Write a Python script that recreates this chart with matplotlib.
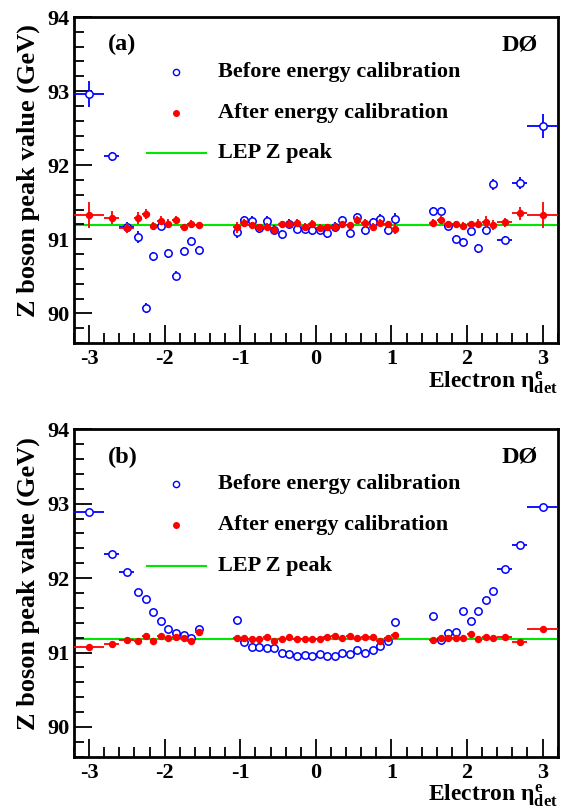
import numpy as np
import matplotlib
matplotlib.use('Agg')
import matplotlib.pyplot as plt

plt.rcParams['font.family'] = ['Liberation Serif', 'DejaVu Serif']
plt.rcParams['font.weight'] = 'bold'
plt.rcParams['mathtext.fontset'] = 'custom'
plt.rcParams['mathtext.rm'] = 'Liberation Serif:bold'
plt.rcParams['mathtext.it'] = 'Liberation Serif:bold'
plt.rcParams['mathtext.bf'] = 'Liberation Serif:bold'

# eta bins
eta = np.array([-3.0, -2.7, -2.5, -2.35, -2.25, -2.15, -2.05, -1.95, -1.85, -1.75, -1.65, -1.55,
                -1.05, -0.95, -0.85, -0.75, -0.65, -0.55, -0.45, -0.35, -0.25, -0.15, -0.05,
                0.05, 0.15, 0.25, 0.35, 0.45, 0.55, 0.65, 0.75, 0.85, 0.95, 1.05,
                1.55, 1.65, 1.75, 1.85, 1.95, 2.05, 2.15, 2.25, 2.35, 2.5, 2.7, 3.0])
eta_err = np.array([0.2, 0.1, 0.1] + [0.05] * 40 + [0.1, 0.1, 0.2])

lep_z = 91.1876

# panel (a)
before_a = np.array([92.96, 92.12, 91.17, 91.03, 90.07, 90.77, 91.18, 90.81, 90.51, 90.84, 90.98, 90.86,
                     91.10, 91.26, 91.25, 91.15, 91.25, 91.13, 91.07, 91.21, 91.14, 91.14, 91.12,
                     91.13, 91.08, 91.17, 91.26, 91.09, 91.30, 91.12, 91.23, 91.28, 91.12, 91.28,
                     91.38, 91.38, 91.18, 91.01, 90.97, 91.11, 90.88, 91.13, 91.74, 90.99, 91.76, 92.53])
before_a_err = np.array([0.17, 0.06, 0.06, 0.08, 0.07, 0.06, 0.06, 0.06, 0.06, 0.05, 0.05, 0.05,
                         0.08, 0.06, 0.06, 0.06, 0.06, 0.06, 0.06, 0.06, 0.06, 0.06, 0.06,
                         0.06, 0.06, 0.06, 0.06, 0.06, 0.06, 0.06, 0.06, 0.06, 0.06, 0.08,
                         0.05, 0.05, 0.05, 0.05, 0.05, 0.06, 0.06, 0.06, 0.08, 0.06, 0.08, 0.16])
after_a = np.array([91.33, 91.29, 91.15, 91.29, 91.34, 91.18, 91.25, 91.21, 91.26, 91.16, 91.21, 91.19,
                    91.16, 91.22, 91.19, 91.16, 91.17, 91.13, 91.20, 91.21, 91.22, 91.17, 91.21,
                    91.15, 91.16, 91.17, 91.20, 91.19, 91.26, 91.22, 91.17, 91.22, 91.20, 91.14,
                    91.22, 91.26, 91.20, 91.20, 91.18, 91.20, 91.21, 91.24, 91.19, 91.23, 91.35, 91.33])
after_a_err = np.array([0.18, 0.09, 0.07, 0.08, 0.07, 0.06, 0.06, 0.06, 0.05, 0.05, 0.05, 0.05,
                        0.07, 0.06, 0.05, 0.05, 0.05, 0.05, 0.05, 0.05, 0.05, 0.05, 0.05,
                        0.05, 0.05, 0.05, 0.05, 0.05, 0.05, 0.05, 0.05, 0.05, 0.05, 0.07,
                        0.05, 0.05, 0.05, 0.05, 0.05, 0.05, 0.06, 0.07, 0.07, 0.06, 0.09, 0.18])

# panel (b)
before_b = np.array([92.89, 92.33, 92.08, 91.81, 91.72, 91.55, 91.43, 91.32, 91.26, 91.23, 91.20, 91.31,
                     91.44, 91.14, 91.07, 91.07, 91.06, 91.06, 91.00, 90.98, 90.96, 90.97, 90.95,
                     90.98, 90.95, 90.96, 90.99, 90.98, 91.03, 91.00, 91.04, 91.09, 91.16, 91.41,
                     91.49, 91.17, 91.26, 91.28, 91.56, 91.43, 91.56, 91.70, 91.83, 92.12, 92.44, 92.95])
after_b = np.array([91.07, 91.11, 91.17, 91.16, 91.22, 91.15, 91.22, 91.20, 91.21, 91.20, 91.16, 91.27,
                    91.20, 91.20, 91.18, 91.18, 91.21, 91.16, 91.18, 91.21, 91.18, 91.18, 91.18,
                    91.18, 91.21, 91.22, 91.20, 91.22, 91.20, 91.21, 91.21, 91.15, 91.20, 91.24,
                    91.17, 91.19, 91.19, 91.19, 91.19, 91.25, 91.18, 91.21, 91.20, 91.21, 91.14, 91.31])
err_b = np.full(len(eta), 0.02)

fig = plt.figure(figsize=(5.62, 8.10), dpi=100)
ax_a = fig.add_axes([0.1317, 0.5765, 0.8607, 0.4025])
ax_b = fig.add_axes([0.1317, 0.0658, 0.8607, 0.4042])


def draw_panel(ax, before, before_err, after, after_err, tag):
    ax.axhline(lep_z, color='#00e600', lw=1.5, zorder=1)
    ax.errorbar(eta, before, xerr=eta_err, yerr=before_err, fmt='o', ms=5.3,
                mfc='white', mec='#0000ff', mew=1.1, ecolor='#0000ff', elinewidth=1.3,
                capsize=0, zorder=3)
    ax.errorbar(eta, after, xerr=eta_err, yerr=after_err, fmt='o', ms=4.3,
                mfc='#ff0000', mec='#ff0000', ecolor='#ff0000', elinewidth=1.3,
                capsize=0, zorder=4)
    ax.set_xlim(-3.2, 3.2)
    ax.set_ylim(89.6, 94)
    ax.set_xticks([-3, -2, -1, 0, 1, 2, 3])
    ax.set_xticks(np.arange(-3.2, 3.21, 0.2), minor=True)
    ax.set_yticks([90, 91, 92, 93, 94])
    ax.set_yticks(np.arange(89.6, 94.01, 0.2), minor=True)
    ax.set_xticklabels(['-3', '-2', '-1', '0', '1', '2', '3'])
    ax.tick_params(which='both', direction='in', top=False, right=False,
                   labelsize=16, width=1.3)
    ax.tick_params(which='major', length=13)
    ax.tick_params(which='minor', length=7)
    ax.tick_params(axis='x', pad=4.5)
    for sp in ax.spines.values():
        sp.set_linewidth(2)
    ax.set_ylabel('Z boson peak value (GeV)', fontsize=19, fontweight='bold')
    ax.yaxis.set_label_coords(-0.07, 0.53)
    ax.set_xlabel(r'Electron $\eta^{e}_{det}$', fontsize=17, fontweight='bold',
                  loc='right', labelpad=0)

    ax.text(0.07, 0.915, tag, transform=ax.transAxes, fontsize=17.5, fontweight='bold',
            ha='left', va='center')
    ax.text(0.958, 0.915, 'DØ', transform=ax.transAxes, fontsize=17.5, fontweight='bold',
            ha='right', va='center')

    # legend drawn by hand
    ax.plot([-1.85], [93.26], 'o', ms=4.5, mfc='none', mec='#0000ff', mew=1)
    ax.text(-1.30, 93.26, 'Before energy calibration', fontsize=16,
            fontweight='bold', va='center')
    ax.plot([-1.85], [92.71], 'o', ms=4, color='#ff0000')
    ax.text(-1.30, 92.71, 'After energy calibration', fontsize=16,
            fontweight='bold', va='center')
    ax.plot([-2.23, -1.46], [92.16, 92.16], color='#00e600', lw=1.5)
    ax.text(-1.30, 92.16, 'LEP Z peak', fontsize=16, fontweight='bold', va='center')


draw_panel(ax_a, before_a, before_a_err, after_a, after_a_err, '(a)')
draw_panel(ax_b, before_b, err_b, after_b, err_b, '(b)')

fig.savefig('out.png', dpi=100)
